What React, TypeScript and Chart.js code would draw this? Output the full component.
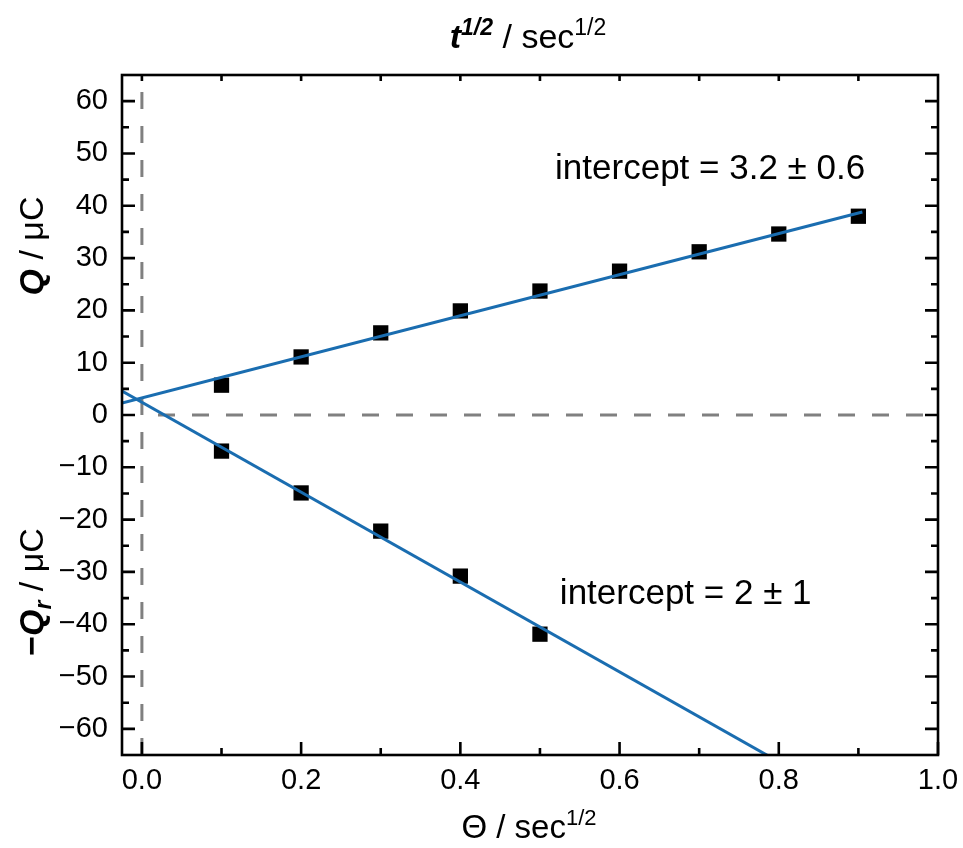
import React, { useEffect, useRef } from 'react';
import { Chart, registerables } from 'chart.js';
Chart.register(...registerables);

// ---- data ----
const xUpper = [0.1, 0.2, 0.3, 0.4, 0.5, 0.6, 0.7, 0.8, 0.9];
const qUpper = [5.7, 11.1, 15.7, 19.9, 23.7, 27.5, 31.2, 34.6, 38.0];
const xLower = [0.1, 0.2, 0.3, 0.4, 0.5];
const qLower = [-6.9, -14.9, -22.2, -30.8, -41.9];

const upperFitX = [-0.025, 0.905];
const upperFitY = [2.3, 38.8];
const lowerFitX = [-0.025, 0.8];
const lowerFitY = [4.6, -66.3];

const xMajorTicks = [0, 0.2, 0.4, 0.6, 0.8, 1.0];
const xMinorTicks = [0.1, 0.3, 0.5, 0.7, 0.9];
const xTopTicks = [0, 0.1, 0.2, 0.3, 0.4, 0.5, 0.6, 0.7, 0.8, 0.9];
const yMajorTicks = [-60, -50, -40, -30, -20, -10, 0, 10, 20, 30, 40, 50, 60];
const yMinorTicks = [-55, -45, -35, -25, -15, -5, 5, 15, 25, 35, 45, 55];

const annotUpper = { text: 'intercept = 3.2 ± 0.6', x: 0.519, y: 46.9 };
const annotLower = { text: 'intercept = 2 ± 1', x: 0.525, y: -34.2 };

const FONT = '"Liberation Sans", Arial, Helvetica, sans-serif';
const BLUE = '#1a6db0';
const TICK_SIZE = 29;
const TITLE_SIZE = 34;

type Run = { t: string; b?: boolean; i?: boolean; sup?: boolean; sub?: boolean };

function runFont(r: Run, size: number) {
  const s = r.sup || r.sub ? Math.round(size * 0.68) : size;
  return `${r.i ? 'italic ' : ''}${r.b ? 'bold ' : ''}${s}px ${FONT}`;
}

function drawRich(ctx: CanvasRenderingContext2D, runs: Run[], cx: number, cy: number, size: number) {
  ctx.textBaseline = 'alphabetic';
  ctx.textAlign = 'left';
  const widths = runs.map((r) => {
    ctx.font = runFont(r, size);
    return ctx.measureText(r.t).width;
  });
  const total = widths.reduce((a, b) => a + b, 0);
  let x = cx - total / 2;
  const base = cy + size * 0.36;
  runs.forEach((r, k) => {
    ctx.font = runFont(r, size);
    let y = base;
    if (r.sup) y -= size * 0.4;
    if (r.sub) y += size * 0.22;
    ctx.fillText(r.t, x, y);
    x += widths[k];
  });
}

const decorPlugin = {
  id: 'decor',
  beforeDatasetsDraw(chart: any) {
    const { ctx, chartArea: a, scales } = chart;
    const xs = scales.x;
    const ys = scales.y;
    ctx.save();
    ctx.beginPath();
    ctx.rect(a.left, a.top, a.right - a.left, a.bottom - a.top);
    ctx.clip();
    ctx.strokeStyle = '#808080';
    ctx.lineWidth = 3;
    ctx.setLineDash([17, 17]);
    const y0 = ys.getPixelForValue(0);
    ctx.beginPath();
    ctx.moveTo(a.left + 36, y0);
    ctx.lineTo(a.right, y0);
    ctx.stroke();
    const x0 = xs.getPixelForValue(0);
    ctx.beginPath();
    ctx.moveTo(x0, a.bottom);
    ctx.lineTo(x0, a.top);
    ctx.stroke();
    ctx.restore();
  },
  afterDatasetsDraw(chart: any) {
    const { ctx, chartArea: a, scales } = chart;
    const xs = scales.x;
    const ys = scales.y;
    ctx.save();
    ctx.strokeStyle = '#000';
    ctx.lineWidth = 2.6;
    ctx.setLineDash([]);
    // ticks
    ctx.beginPath();
    const MAJ = 13;
    const MIN = 7;
    xMajorTicks.forEach((v) => {
      const p = xs.getPixelForValue(v);
      ctx.moveTo(p, a.bottom);
      ctx.lineTo(p, a.bottom - MAJ);
    });
    xMinorTicks.forEach((v) => {
      const p = xs.getPixelForValue(v);
      ctx.moveTo(p, a.bottom);
      ctx.lineTo(p, a.bottom - MIN);
    });
    xTopTicks.forEach((v) => {
      const p = xs.getPixelForValue(v);
      ctx.moveTo(p, a.top);
      ctx.lineTo(p, a.top + 6);
    });
    yMajorTicks.forEach((v) => {
      const p = ys.getPixelForValue(v);
      ctx.moveTo(a.left, p);
      ctx.lineTo(a.left + MAJ, p);
      ctx.moveTo(a.right, p);
      ctx.lineTo(a.right - MAJ, p);
    });
    yMinorTicks.forEach((v) => {
      const p = ys.getPixelForValue(v);
      ctx.moveTo(a.left, p);
      ctx.lineTo(a.left + MIN, p);
      ctx.moveTo(a.right, p);
      ctx.lineTo(a.right - MIN, p);
    });
    ctx.stroke();
    // frame
    ctx.strokeRect(a.left, a.top, a.right - a.left, a.bottom - a.top);

    // annotations
    ctx.fillStyle = '#000';
    ctx.font = `35px ${FONT}`;
    ctx.textAlign = 'left';
    ctx.textBaseline = 'middle';
    [annotUpper, annotLower].forEach((an) => {
      ctx.fillText(an.text, xs.getPixelForValue(an.x), ys.getPixelForValue(an.y));
    });

    // axis titles
    const midX = (a.left + a.right) / 2 - 1;
    drawRich(ctx, [{ t: 'Θ / sec' }, { t: '1/2', sup: true }], midX, 826, 33);
    drawRich(
      ctx,
      [{ t: 't', b: true, i: true }, { t: '1/2', b: true, i: true, sup: true }, { t: ' / sec' }, { t: '1/2', sup: true }],
      midX - 1,
      36,
      TITLE_SIZE
    );
    ctx.save();
    ctx.translate(31, 246);
    ctx.rotate(-Math.PI / 2);
    drawRich(ctx, [{ t: 'Q', b: true, i: true }, { t: ' / μC' }], 0, 0, TITLE_SIZE);
    ctx.restore();
    ctx.save();
    ctx.translate(31, 592);
    ctx.rotate(-Math.PI / 2);
    drawRich(
      ctx,
      [{ t: '−', b: true }, { t: 'Q', b: true, i: true }, { t: 'r', b: true, i: true, sub: true }, { t: ' / μC' }],
      0,
      0,
      TITLE_SIZE
    );
    ctx.restore();
    ctx.restore();
  },
};

export default function App() {
  const ref = useRef<HTMLCanvasElement | null>(null);
  useEffect(() => {
    document.body.style.margin = '0';
    if (!ref.current) return;
    const chart = new Chart(ref.current, {
      type: 'scatter',
      data: {
        datasets: [
          {
            type: 'line',
            data: upperFitX.map((x, k) => ({ x, y: upperFitY[k] })),
            borderColor: BLUE,
            borderWidth: 3,
            pointRadius: 0,
            fill: false,
          },
          {
            type: 'line',
            data: lowerFitX.map((x, k) => ({ x, y: lowerFitY[k] })),
            borderColor: BLUE,
            borderWidth: 3,
            pointRadius: 0,
            fill: false,
          },
          {
            data: xUpper.map((x, k) => ({ x, y: qUpper[k] })),
            pointStyle: 'rect',
            pointRadius: 10.8,
            backgroundColor: '#000',
            borderWidth: 0,
          },
          {
            data: xLower.map((x, k) => ({ x, y: qLower[k] })),
            pointStyle: 'rect',
            pointRadius: 10.8,
            backgroundColor: '#000',
            borderWidth: 0,
          },
        ] as any,
      },
      options: {
        animation: false,
        responsive: false,
        layout: { padding: { top: 75, right: 25, left: 0, bottom: 0 } },
        plugins: { legend: { display: false }, tooltip: { enabled: false } },
        scales: {
          x: {
            type: 'linear',
            position: 'bottom',
            min: -0.025,
            max: 1.0,
            grid: { display: false, drawTicks: false },
            border: { display: false },
            afterBuildTicks: (s: any) => {
              s.ticks = xMajorTicks.map((v) => ({ value: v }));
            },
            afterFit: (s: any) => {
              s.height = 93;
              s.paddingLeft = 0;
              s.paddingRight = 0;
            },
            ticks: {
              padding: 9,
              color: '#000',
              font: { family: FONT, size: TICK_SIZE },
              maxRotation: 0,
              autoSkip: false,
              callback: (v: any) => Number(v).toFixed(1),
            },
          },
          y: {
            type: 'linear',
            min: -65,
            max: 65,
            grid: { display: false, drawTicks: false },
            border: { display: false },
            afterBuildTicks: (s: any) => {
              s.ticks = yMajorTicks.map((v) => ({ value: v }));
            },
            afterFit: (s: any) => {
              s.width = 122;
              s.paddingTop = 0;
              s.paddingBottom = 0;
            },
            ticks: {
              padding: 14,
              color: '#000',
              font: { family: FONT, size: TICK_SIZE },
              autoSkip: false,
              callback: (v: any) => (Number(v) < 0 ? '−' + Math.abs(Number(v)) : String(v)),
            },
          },
        },
      },
      plugins: [decorPlugin],
    });
    return () => chart.destroy();
  }, []);
  return (
    <div style={{ width: 963, height: 848, background: '#fff' }}>
      <canvas ref={ref} width={963} height={848} style={{ display: 'block' }} />
    </div>
  );
}
